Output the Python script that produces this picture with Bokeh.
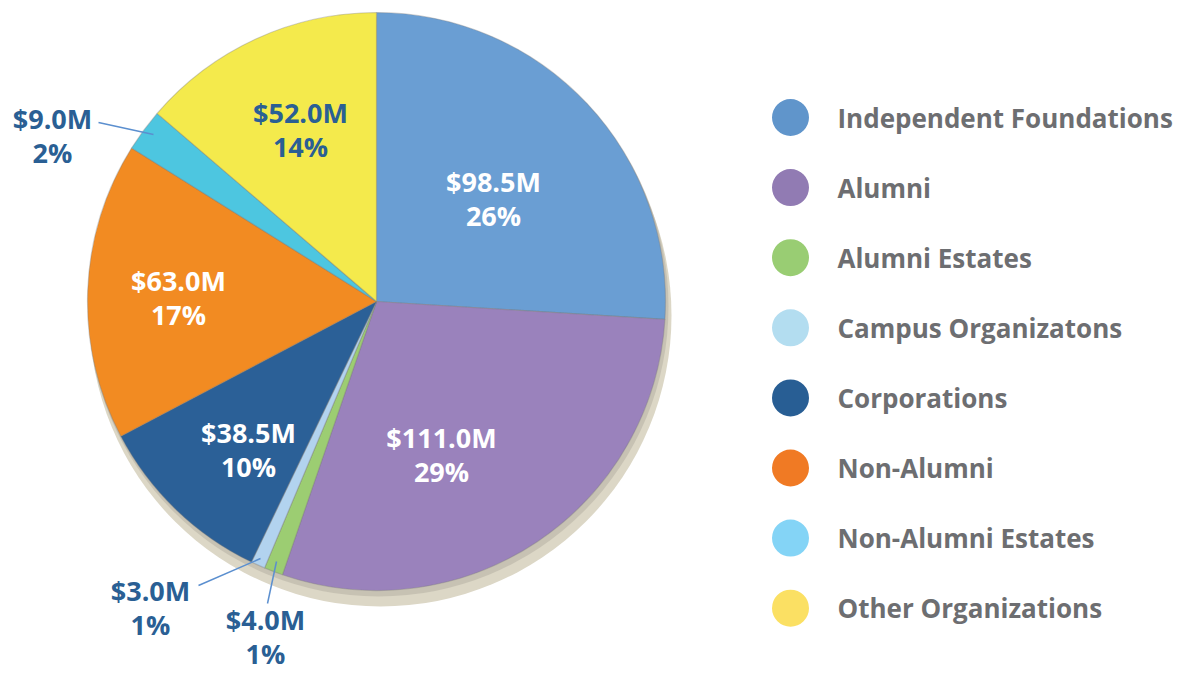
import math
from bokeh.plotting import figure
from bokeh.models import Range1d, ColumnDataSource
from bokeh.core.properties import value
from bokeh.embed import file_html
from bokeh.resources import INLINE

categories = ["Independent Foundations", "Alumni", "Alumni Estates", "Campus Organizatons",
              "Corporations", "Non-Alumni", "Non-Alumni Estates", "Other Organizations"]
amounts = [98.5, 111.0, 4.0, 3.0, 38.5, 63.0, 9.0, 52.0]
slice_colors = ["#6a9ed3", "#9a82bc", "#9ccd72", "#b2d3ef", "#2b6097", "#f28b22", "#4dc6e0", "#f4ea4c"]
legend_colors = ["#6095cb", "#917bb3", "#99cd73", "#b3ddf0", "#285e94", "#f07a24", "#84d4f6", "#fbe063"]
label_colors = ["white", "white", "#2a5f94", "#2a5f94", "white", "white", "#2a5f94", "#2a5f94"]
# label anchor positions (reference pixel coords, x, y of value line)
label_x = [493, 441, 265, 150, 248, 178, 52, 300]
label_y = [181, 437, 619, 590, 432, 280, 118, 112]
# leader lines for outside labels (start on label side, end in slice)
leader_x0 = [267, 198, 98]
leader_y0 = [603, 585, 122]
leader_x1 = [276, 260, 153]
leader_y1 = [561, 558, 134]

W, H = 1181, 675
FY = 675  # flip reference y to data y


def fy(y):
    return FY - y


p = figure(width=W, height=H, output_backend="svg", toolbar_location=None,
           x_range=Range1d(0, W), y_range=Range1d(FY - H, FY),
           min_border=0, min_border_left=0, min_border_right=0,
           min_border_top=0, min_border_bottom=0)
p.axis.visible = False
p.grid.visible = False
p.outline_line_color = None
p.background_fill_color = "white"
p.border_fill_color = "white"

cx, cy, r = 376, fy(301), 289

# shadow
p.circle(x=[cx + 4], y=[cy - 14], radius=r + 2, fill_color="#dcd7c6", line_color=None)
p.circle(x=[cx + 2], y=[cy - 5], radius=r + 1, fill_color="#b9b4a6", line_color=None, fill_alpha=0.6)

total = sum(amounts)
starts, ends = [], []
cum = 0.0
for a in amounts:
    starts.append(math.pi / 2 - cum / total * 2 * math.pi)
    cum += a
    ends.append(math.pi / 2 - cum / total * 2 * math.pi)

src = ColumnDataSource(dict(start=starts, end=ends, color=slice_colors))
p.wedge(x=cx, y=cy, radius=r, start_angle="start", end_angle="end", direction="clock",
        fill_color="color", line_color="#7a7a7a", line_alpha=0.35, line_width=1.2, source=src)

# leader lines
p.segment(x0=leader_x0, y0=[fy(v) for v in leader_y0], x1=leader_x1, y1=[fy(v) for v in leader_y1],
          line_color="#5b8fcf", line_width=1.5)

value_txt = ["$%.1fM" % a for a in amounts]
pct_txt = ["%d%%" % round(a / total * 100) for a in amounts]
lsrc = ColumnDataSource(dict(x=label_x, y1=[fy(v) for v in label_y], y2=[fy(v + 34) for v in label_y],
                             v=value_txt, pc=pct_txt, c=label_colors))
for col in ("v", "pc"):
    p.text(x="x", y="y1" if col == "v" else "y2", text=col, source=lsrc, text_color="c",
           text_font=value("Open Sans"), text_font_style="bold", text_font_size="27px",
           text_align="center", text_baseline="middle")

# legend
leg_y = [fy(117 + 70.1 * i) for i in range(len(categories))]
p.scatter(x=[790] * len(categories), y=leg_y, size=37, marker="circle",
          fill_color=legend_colors, line_color=None)
p.text(x=[837] * len(categories), y=leg_y, text=categories, text_color="#6d6e71",
       text_font=value("Open Sans"), text_font_style="bold", text_font_size="26px",
       text_align="left", text_baseline="middle")

open("out.html", "w").write(file_html(p, INLINE))
